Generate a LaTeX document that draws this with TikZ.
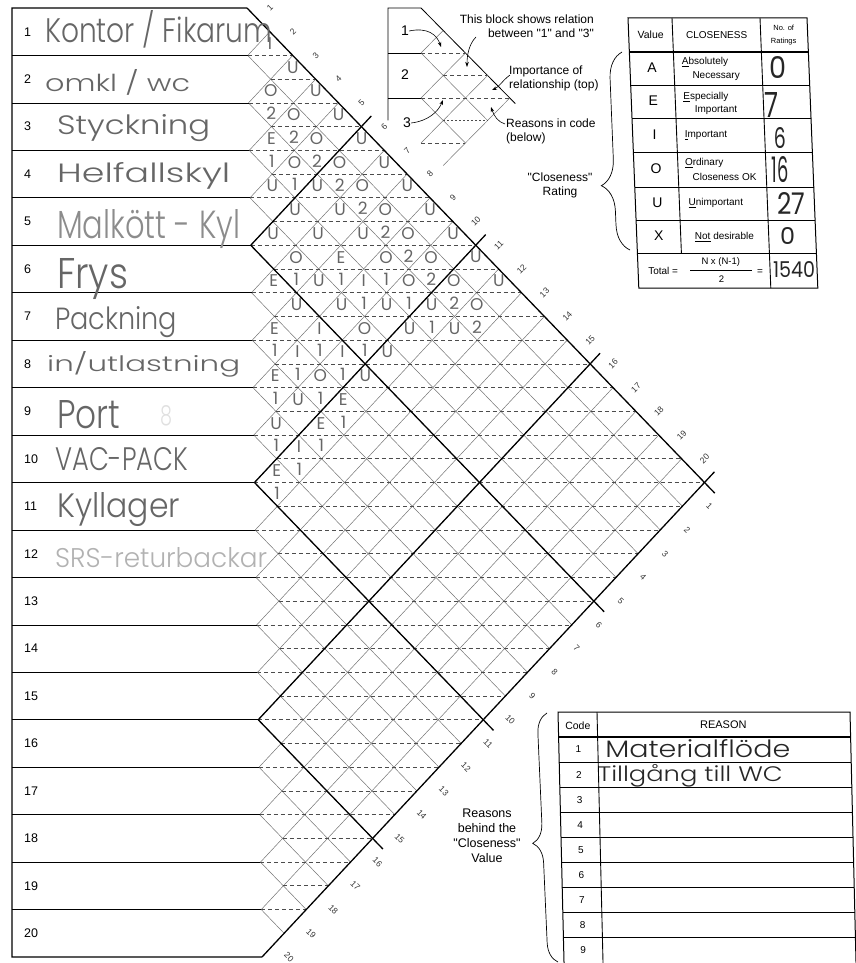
\documentclass[tikz,border=0pt]{standalone}
\usepackage{fontspec}
\setmainfont{Liberation Sans}[Ligatures=TeXOff]
\newfontfamily\hand{Poppins}[UprightFont=*-Light,FakeStretch=0.8]
\newfontfamily\handw{Poppins}
\usetikzlibrary{arrows.meta,decorations.pathreplacing}
\definecolor{pencil}{gray}{0.4}
\definecolor{ink}{gray}{0.15}
\newcommand\fsz[2]{\fontsize{#1}{#2}\selectfont}
\begin{document}
\begin{tikzpicture}[x=1pt,y=-1pt,
  heavy/.style={line width=1.3pt},
  latt/.style={line width=0.5pt,black!55},
  halfline/.style={line width=0.7pt,black!70,dash pattern=on 4pt off 3pt},
  edgenum/.style={inner sep=0pt,text=black!80,font=\fsz{8.5}{9}},
  entry/.style={inner sep=0pt,text=pencil,font={\handw\fsz{17}{17}}},
  dept/.style={anchor=base west,inner sep=0pt,text=pencil,font=\hand},
  rownum/.style={anchor=west,inner sep=0pt,font=\fsz{12.5}{13}},
  note/.style={inner sep=0pt,font=\fsz{12}{14}},
  cell/.style={inner sep=0pt,font=\fsz{10}{12}},
  count/.style={inner sep=0pt,text=ink,font=\handw},
  arr/.style={-{Stealth[length=5pt,width=3.5pt]},line width=0.6pt}]
\useasboundingbox (0,0) rectangle (856,963);
\coordinate (border) at (12,0);
\begin{scope}[shift={(247,8)},x=22.5pt,y=-23.725pt,xslant=-0.0158]
  \coordinate (top) at (0,0);
  \coordinate (bot) at (0,40);
  \foreach \k in {1,...,19}
    \coordinate (r\k) at (0,2*\k);
  \foreach \n in {1,...,19} {
    \draw[latt] (0,2*\n) -- ({20-\n},{20+\n});
    \draw[latt] (0,2*\n) -- (\n,\n);
  }
  \foreach \v in {2,...,38} {
    \pgfmathsetmacro\ul{mod(\v,2)}
    \pgfmathsetmacro\ur{min(\v,40-\v)}
    \draw[halfline] (\ul,\v) -- (\ur,\v);
  }
  \draw[heavy] (top) -- (20.45,20.45);
  \draw[heavy] (bot) -- (20.45,19.55);
  \foreach \n in {5,10,15} {
    \draw[heavy] (0,2*\n) -- ({20.45-\n},{20.45+\n});
    \draw[heavy] (0,2*\n) -- ({\n+0.45},{\n-0.45});
  }
  \foreach \k in {1,...,20} {
    \node[edgenum,rotate=45] (t\k) at ({\k+0.02},{\k-1}) {\k};
    \node[edgenum,rotate=-45] (b\k) at ({21.2-\k},{20+\k}) {\k};
  }
  \foreach \i/\j/\r in {1/2/I,1/3/U,1/4/U,1/5/U,1/6/U,1/7/U,1/8/U,1/9/U,1/10/U,1/11/U,1/12/U,
      2/3/O,2/4/O,2/5/O,2/6/O,2/7/O,2/8/O,2/9/O,2/10/O,2/11/O,2/12/O,
      3/4/E,3/5/O,3/6/U,3/7/U,3/8/U,3/9/O,3/10/O,3/11/U,3/12/U,
      4/5/U,4/6/U,4/7/U,4/8/E,4/9/I,4/10/U,4/11/U,
      5/6/U,5/7/O,5/8/U,5/9/U,5/10/O,5/11/U,
      6/7/E,6/8/U,6/9/I,6/10/I,6/11/U,
      7/8/E,7/9/I,7/10/O,7/11/E,
      8/9/E,8/10/U,8/11/E,
      9/10/U,9/11/I,
      10/11/E}
    \node[entry] (v\i-\j) at ({\j-\i},{\i+\j-1.5}) {\r};
  \foreach \i/\j/\c in {2/3/2,2/4/2,2/5/2,2/6/2,2/7/2,2/8/2,2/9/2,2/10/2,2/11/2,2/12/2,
      3/4/1,3/5/1,3/9/1,3/10/1,3/11/1,4/8/1,4/9/1,5/7/1,5/10/1,6/9/1,6/10/1,
      7/8/1,7/9/1,7/10/1,7/11/1,8/9/1,8/11/1,9/10/1,9/11/1,10/11/1}
    \node[entry] (c\i-\j) at ({\j-\i},{\i+\j-0.55}) {\c};
\end{scope}
\draw[heavy] (top) -- (12,8) -- (12,957) -- (bot);
\foreach \k in {1,...,19}
  \draw[line width=0.7pt] (r\k) -- (r\k -| border);
\foreach \k in {5,10,15}
  \draw[heavy] (r\k) -- (r\k -| border);
\foreach \k in {1,...,20}
  \node[rownum] (n\k) at (24,{8+(2*\k-1)*23.725}) {\k};
\node[dept] (d1) at (45,43) {\resizebox{227pt}{32pt}{Kontor / Fikarum}};
\node[dept] (d2) at (45,92) {\resizebox{145pt}{22pt}{omkl / wc}};
\node[dept] (d3) at (57,134) {\resizebox{153pt}{20pt}{Styckning}};
\node[dept] (d4) at (57,182) {\resizebox{173pt}{20pt}{Helfallskyl}};
\node[dept,text=black!45] (d5) at (57,238) {\resizebox{183pt}{29pt}{Malkött - Kyl}};
\node[dept] (d6) at (57,288) {\resizebox{71pt}{30pt}{Frys}};
\node[dept] (d7) at (55,329) {\resizebox{122pt}{23pt}{Packning}};
\node[dept] (d8) at (47,371) {\resizebox{193pt}{20pt}{in/utlastning}};
\node[dept] (d9) at (57,428) {\resizebox{63pt}{28pt}{Port}};
\node[dept,text=black!12] (smudge) at (160,425) {\resizebox{12pt}{20pt}{8}};
\node[dept] (d10) at (55,470) {\resizebox{133pt}{23pt}{VAC-PACK}};
\node[dept] (d11) at (57,517) {\resizebox{123pt}{25pt}{Kyllager}};
\node[dept,text=black!30] (d12) at (55,567) {\resizebox{212pt}{20pt}{SRS-returbackar}};
\begin{scope}[shift={(421,8)},x=22.2pt,y=-22.5pt]
  \draw[line width=0.8pt] (-1.49,5) -- (-1.49,0) -- (0,0) -- (4.25,4.25);
  \draw[line width=0.6pt] (-1.49,2) -- (0,2);
  \draw[line width=0.6pt] (-1.49,4) -- (0,4);
  \draw[latt] (0,2) -- (1,1);
  \draw[latt] (0,4) -- (2,2);
  \draw[latt] (0,6) -- (3,3);
  \draw[latt] (1,7) -- (4,4);
  \draw[latt] (0,2) -- (3,5);
  \draw[latt] (0,4) -- (2,6);
  \draw[halfline] (0,2) -- (2,2);
  \draw[halfline] (1,3) -- (3,3);
  \draw[halfline] (0,4) -- (4,4);
  \draw[halfline,dash pattern=on 2pt off 2pt] (1,5) -- (3,5);
  \draw[halfline] (0,6) -- (2,6);
\end{scope}
\node[note,font=\fsz{14}{14}] (m1) at (405,31) {1};
\node[note,font=\fsz{14}{14}] (m2) at (405,75) {2};
\node[note,font=\fsz{14}{14}] (m3) at (407,123) {3};
\coordinate (a1) at (441,47);
\coordinate (a3) at (443,100);
\draw[arr] (m1.east) .. controls (428,27) and (437,35) .. (a1);
\draw[arr] (m3.east) .. controls (428,121) and (438,112) .. (a3);
\node[note,anchor=east,align=right] (blk) at (594,26) {This block shows relation\\between "1" and "3"};
\coordinate (blkfoot) at (476,37);
\coordinate (a13) at (467,67);
\draw[arr] (blkfoot) .. controls (469,44) and (467,55) .. (a13);
\node[note,anchor=west,align=left] (imp) at (509,78) {Importance of\\relationship (top)};
\coordinate (imptail) at (510,75);
\coordinate (imphead) at (492,90);
\draw[arr] (imptail) .. controls (503,80) and (499,87) .. (imphead);
\node[note,anchor=west,align=left] (rsn) at (506,131) {Reasons in code\\(below)};
\coordinate (rsntail) at (505,124);
\coordinate (rsnhead) at (491,107);
\draw[arr] (rsntail) .. controls (498,122) and (494,116) .. (rsnhead);
\node[note,align=center] (crt) at (560,185) {"Closeness"\\Rating};
\draw[line width=0.7pt,decorate,decoration={brace,amplitude=26pt,aspect=0.33}] (630,250) -- (622,52);
\begin{scope}[shift={(628,18)},xslant=-0.04]
  \draw[line width=1pt] (0,0) rectangle (179,270);
  \draw[line width=2pt] (0,34) -- (179,34);
  \foreach \y in {67,100,134,169,202,235}
    \draw[line width=0.9pt] (0,\y) -- (179,\y);
  \draw[line width=0.9pt] (44,0) -- (44,235);
  \draw[line width=0.9pt] (132,0) -- (132,270);
  \node[cell,font=\fsz{10.5}{12}] (hval) at (22,17) {Value};
  \node[cell] (hclo) at (88,17) {CLOSENESS};
  \node[cell,font=\fsz{7.5}{13},align=center] (hnum) at (155,17) {No. of\\Ratings};
  \foreach \y/\v in {50/A,83/E,117/I,151/O,185/U,218/X}
    \node[cell,font=\fsz{14}{14}] (k\v) at (22,\y) {\v};
  \node[cell,anchor=west] (dA1) at (52,44) {\underline{A}bsolutely};
  \node[cell,anchor=west] (dA2) at (62,58) {Necessary};
  \node[cell,anchor=west] (dE1) at (52,79) {\underline{E}specially};
  \node[cell,anchor=west] (dE2) at (63,92) {Important};
  \node[cell,anchor=west] (dI) at (52,117) {\underline{I}mportant};
  \node[cell,anchor=west] (dO1) at (51,145) {\underline{O}rdinary};
  \node[cell,anchor=west] (dO2) at (58,159) {Closeness OK};
  \node[cell,anchor=west] (dU) at (53,185) {\underline{U}nimportant};
  \node[cell,anchor=west] (dX) at (58,219) {\underline{Not} desirable};
  \node[cell,anchor=west] (tot) at (10,253) {Total =};
  \node[cell,font=\fsz{9.5}{10}] (frn) at (83,244) {N x (N-1)};
  \draw[line width=0.6pt] (52,252) -- (114,252);
  \node[cell,font=\fsz{9.5}{10}] (frd) at (83,261) {2};
  \node[cell] (eq) at (122,254) {=};
  \node[count] (nA) at (148,50) {\resizebox{17pt}{22pt}{0}};
  \node[count] (nE) at (140,87) {\resizebox{14pt}{25pt}{7}};
  \node[count] (nI) at (147,120) {\resizebox{12pt}{21pt}{6}};
  \node[count] (nO) at (146,152) {\resizebox{17pt}{26pt}{16}};
  \node[count] (nU) at (156,185) {\resizebox{28pt}{22pt}{27}};
  \node[count] (nX) at (151,218) {\resizebox{15pt}{17pt}{0}};
  \node[count] (ntot) at (156,252) {\resizebox{42pt}{16pt}{1540}};
\end{scope}
\begin{scope}[shift={(558,712)},xslant=-0.024]
  \draw[line width=1pt] (0,252) -- (0,0) -- (292,0) -- (292,252);
  \draw[line width=2pt] (0,25) -- (292,25);
  \foreach \k in {2,...,9}
    \draw[line width=0.9pt] (0,{25+(\k-1)*25.1}) -- (292,{25+(\k-1)*25.1});
  \draw[line width=0.9pt] (39,0) -- (39,252);
  \node[cell,font=\fsz{10.5}{12}] (hcode) at (19.5,14) {Code};
  \node[cell,font=\fsz{11}{12}] (hrsn) at (165,13) {REASON};
  \foreach \k in {1,...,9}
    \node[cell] (code\k) at (19.5,{25+(\k-0.5)*25.1}) {\k};
  \node[dept,text=ink] (rs1) at (46,45) {\resizebox{185pt}{18pt}{Materialflöde}};
  \node[dept,text=ink] (rs2) at (38,69) {\resizebox{185pt}{17pt}{Tillgång till WC}};
\end{scope}
\draw[line width=0.7pt,decorate,decoration={brace,amplitude=20pt,aspect=0.48}] (558,962) -- (547,713);
\node[note,align=center,font=\fsz{12.5}{15}] (rbh) at (487,836) {Reasons\\behind the\\"Closeness"\\Value};
\end{tikzpicture}
\end{document}
